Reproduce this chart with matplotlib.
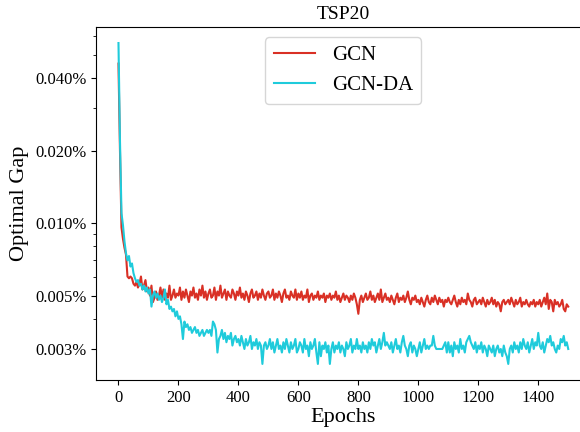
import matplotlib
matplotlib.use('Agg')
import matplotlib.pyplot as plt
import numpy as np
from matplotlib.ticker import FixedLocator, FuncFormatter, NullFormatter

plt.rcParams['font.family'] = ['Liberation Serif', 'DejaVu Serif']

# optimal gap in units of 0.001 %, one value every 5 epochs (0..1500)
epochs = list(range(0, 1501, 5))
gcn = [46.0, 20.0, 9.6, 8.6, 7.9, 7.4, 6.0, 5.9, 6.0, 5.9, 5.6, 5.5, 5.7, 5.4, 5.6, 6.0, 5.3, 5.5, 5.8, 5.2,
       5.4, 5.0, 5.5, 4.7, 4.9, 5.2, 4.8, 5.0, 5.4, 4.9, 5.3, 4.8, 5.1, 4.9, 5.5, 4.8, 5.0, 5.3, 4.9, 5.1,
       5.0, 5.4, 4.8, 5.2, 4.9, 5.3, 5.0, 4.7, 5.2, 5.0, 5.4, 4.9, 5.1, 4.8, 5.3, 5.0, 5.5, 4.9, 5.2, 4.8,
       5.1, 5.3, 4.9, 5.0, 5.4, 4.8, 5.2, 5.0, 5.5, 4.9, 5.1, 5.3, 4.8, 5.2, 5.0, 4.9, 5.3, 5.1, 4.8, 5.2,
       5.0, 5.4, 4.9, 5.1, 4.8, 5.2, 5.0, 4.7, 5.1, 5.3, 4.9, 5.0, 5.2, 4.8, 5.1, 4.9, 5.3, 5.0, 4.8, 5.1,
       5.2, 4.9, 5.0, 5.3, 4.8, 5.1, 4.9, 5.2, 5.0, 4.7, 5.1, 5.3, 4.9, 5.0, 4.8, 5.2, 5.0, 4.9, 5.3, 4.8,
       5.1, 4.9, 5.2, 4.8, 5.0, 4.9, 5.3, 4.7, 5.0, 5.1, 4.8, 5.0, 4.9, 5.2, 4.8, 5.0, 4.9, 5.1, 4.7, 5.0,
       4.9, 5.1, 4.8, 5.0, 4.9, 5.2, 4.8, 5.0, 4.7, 4.9, 5.1, 4.8, 5.0, 4.9, 4.7, 5.0, 4.8, 5.1, 4.9, 4.6,
       4.2, 4.8, 5.0, 4.7, 4.9, 5.1, 4.8, 4.9, 5.2, 4.8, 5.0, 4.7, 4.9, 5.1, 4.8, 5.3, 4.7, 4.9, 5.1, 4.8,
       4.9, 4.7, 5.0, 4.8, 4.6, 4.9, 5.1, 4.7, 4.9, 4.8, 5.0, 4.7, 4.9, 5.2, 4.8, 4.6, 4.9, 4.8, 5.0, 4.7,
       4.8, 4.6, 4.9, 4.7, 4.5, 4.8, 5.0, 4.7, 4.6, 4.9, 4.7, 5.0, 4.8, 4.6, 4.9, 4.7, 4.8, 4.5, 4.8, 4.7,
       4.9, 4.7, 4.6, 4.8, 5.0, 4.7, 4.5, 4.8, 4.6, 4.9, 4.7, 4.8, 4.6, 5.1, 4.8, 4.7, 4.5, 4.8, 4.9, 4.6,
       4.7, 4.8, 4.6, 4.9, 4.7, 4.5, 4.8, 4.6, 4.7, 4.9, 4.6, 4.8, 4.5, 4.7, 4.6, 4.3, 4.7, 4.8, 4.6, 4.7,
       4.8, 4.6, 4.9, 4.7, 4.5, 4.8, 4.6, 4.7, 4.9, 4.5, 4.7, 4.6, 4.8, 4.6, 4.5, 4.7, 4.6, 4.8, 4.5, 4.7,
       4.6, 4.8, 4.5, 4.7, 4.9, 4.6, 5.1, 4.4, 4.8, 4.7, 4.3, 4.8, 4.6, 4.7, 4.5, 4.6, 4.8, 4.4, 4.3, 4.6,
       4.5]
gcn_da = [56.0, 22.0, 11.0, 9.8, 8.4, 7.5, 7.0, 7.3, 6.6, 6.8, 6.2, 5.9, 5.7, 5.8, 5.5, 5.6, 5.3, 5.5, 5.2, 5.4,
          5.1, 5.3, 4.5, 5.0, 5.2, 4.9, 5.1, 4.8, 5.0, 4.7, 4.9, 5.3, 4.6, 4.8, 4.4, 4.5, 4.3, 4.4, 4.1, 4.3,
          4.0, 4.1, 3.8, 3.3, 3.9, 3.7, 3.8, 3.6, 3.7, 3.5, 3.6, 3.7, 3.5, 3.6, 3.4, 3.5, 3.6, 3.4, 3.5, 3.6,
          3.5, 3.6, 3.4, 3.9, 3.8, 3.6, 2.9, 3.3, 3.4, 3.6, 3.3, 3.5, 3.2, 3.4, 3.3, 3.5, 3.1, 3.3, 3.4, 3.2,
          3.3, 3.1, 3.4, 3.2, 3.0, 3.3, 3.1, 3.2, 3.4, 3.0, 3.2, 3.1, 3.3, 3.0, 3.2, 3.1, 2.6, 3.1, 3.2, 3.0,
          3.1, 3.3, 3.0, 3.2, 2.9, 3.1, 3.3, 3.0, 3.1, 2.9, 3.2, 3.0, 3.3, 3.1, 2.9, 3.2, 3.0, 3.1, 3.3, 2.9,
          3.0, 3.2, 3.1, 2.9, 3.3, 3.0, 3.1, 2.8, 3.2, 3.0, 3.1, 3.3, 2.9, 2.6, 3.2, 2.8, 3.1, 3.0, 3.2, 2.9,
          3.1, 2.6, 3.0, 3.2, 2.9, 3.1, 3.0, 3.2, 2.9, 3.1, 3.0, 2.8, 3.2, 3.0, 3.1, 3.3, 2.9, 3.1, 3.0, 3.3,
          3.0, 3.1, 2.9, 3.2, 3.0, 3.1, 2.9, 3.2, 3.0, 3.3, 3.1, 3.2, 2.9, 3.1, 3.3, 3.0, 3.2, 3.5, 3.1, 3.2,
          3.1, 3.0, 3.2, 2.9, 3.1, 3.3, 3.0, 3.1, 2.9, 3.2, 3.4, 3.1, 3.0, 2.8, 3.1, 3.2, 2.9, 3.1, 3.0, 2.8,
          3.0, 3.2, 2.9, 3.1, 3.3, 3.0, 3.1, 3.0, 3.1, 3.1, 3.4, 3.1, 3.0, 3.0, 3.0, 3.0, 3.0, 3.1, 3.2, 2.9,
          3.2, 2.9, 3.1, 2.8, 3.2, 3.0, 3.1, 2.9, 3.3, 3.0, 3.1, 2.9, 3.2, 3.3, 3.4, 3.2, 3.1, 3.0, 3.2, 2.9,
          3.1, 3.0, 3.2, 2.9, 3.1, 3.0, 2.8, 3.1, 3.0, 2.9, 3.1, 2.8, 3.0, 3.1, 2.9, 3.0, 2.8, 3.1, 2.9, 2.8,
          2.6, 3.0, 3.1, 2.9, 3.2, 3.0, 3.1, 2.9, 3.2, 3.0, 3.3, 3.1, 3.0, 3.2, 2.9, 3.1, 3.3, 3.0, 3.2, 3.1,
          3.5, 3.1, 3.0, 3.2, 2.9, 3.1, 3.3, 3.2, 3.4, 3.1, 3.2, 3.0, 2.9, 3.1, 3.0, 3.3, 3.2, 3.4, 3.1, 3.2,
          3.0]
yticks = [0.003, 0.005, 0.010, 0.020, 0.040]

fig = plt.figure(figsize=(5.8, 4.32), dpi=100)
ax = fig.add_axes([0.1655, 0.1204, 0.853, 0.8171])

ax.plot(epochs, np.array(gcn) / 1000, color='#d93025', lw=1.5, label='GCN')
ax.plot(epochs, np.array(gcn_da) / 1000, color='#1fcbdb', lw=1.5, label='GCN-DA')

ax.set_yscale('log')
ax.yaxis.set_major_locator(FixedLocator(yticks))
ax.yaxis.set_major_formatter(FuncFormatter(lambda v, p: '%.3f%%' % v))
ax.yaxis.set_minor_formatter(NullFormatter())
ax.set_xticks([0, 200, 400, 600, 800, 1000, 1200, 1400])

ax.tick_params(labelsize=12)
ax.set_xlabel('Epochs', fontsize=16, labelpad=2)
ax.set_ylabel('Optimal Gap', fontsize=16)
ax.set_title('TSP20', fontsize=14)
ax.legend(loc='upper center', fontsize=15)

fig.savefig('out.png', dpi=100)
